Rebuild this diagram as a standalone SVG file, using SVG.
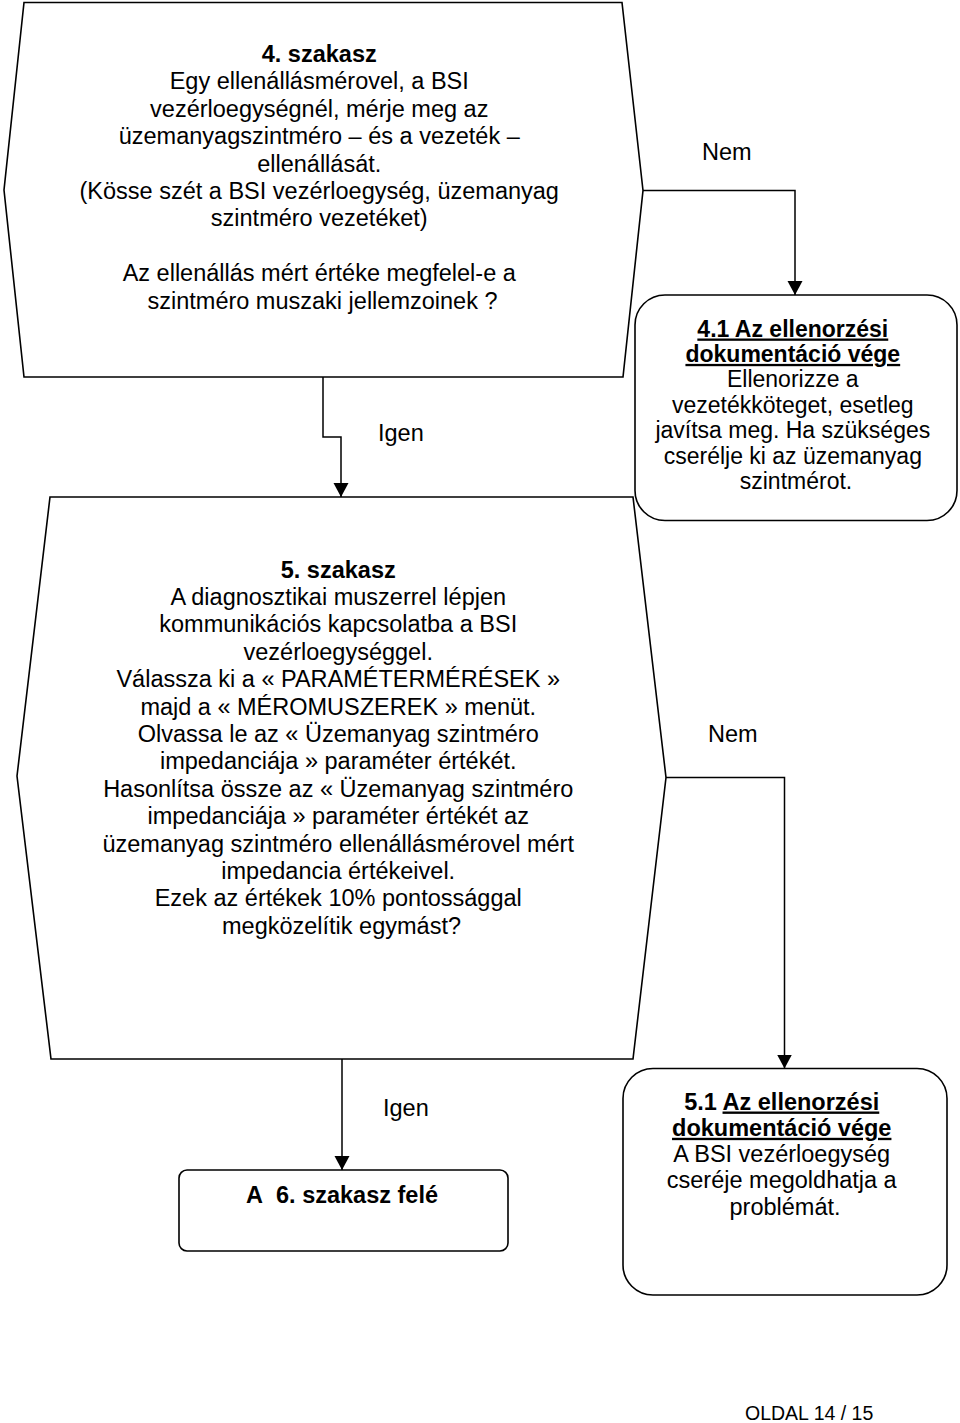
<svg xmlns="http://www.w3.org/2000/svg" width="960" height="1423" viewBox="0 0 960 1423">
<style>
.t{font-family:"Liberation Sans",Arial,sans-serif;fill:#000;font-size:23.5px}
.s{font-size:23px}
.c{text-anchor:middle}
.b{font-weight:bold}
.u{text-decoration:underline}
.shape{fill:#fff;stroke:#000;stroke-width:1.6;stroke-linejoin:miter}
.conn{fill:none;stroke:#000;stroke-width:1.5}
</style>
<defs>
<marker id="arr" markerUnits="userSpaceOnUse" markerWidth="15" markerHeight="16" refX="14" refY="7.5" orient="auto">
<path d="M0,0 L14,7.5 L0,15 z" fill="#000"/>
</marker>
</defs>
<rect width="960" height="1423" fill="#fff"/>

<g id="n4">
<polygon class="shape" points="24,2.5 622,2.5 643,190.5 623,377 24,377 4,190"/>
<text class="t c" x="322.5">
<tspan class="b" x="322.5" y="62">4. szakasz</tspan>
<tspan x="322.5" y="89.4">Egy ellenállásmérovel, a BSI</tspan>
<tspan x="322.5" y="116.8">vezérloegységnél, mérje meg az</tspan>
<tspan x="322.5" y="144.2">üzemanyagszintméro – és a vezeték –</tspan>
<tspan x="322.5" y="171.6">ellenállását.</tspan>
<tspan x="322.5" y="199">(Kösse szét a BSI vezérloegység, üzemanyag</tspan>
<tspan x="322.5" y="226.4">szintméro vezetéket)</tspan>
<tspan x="322.5" y="281.2">Az ellenállás mért értéke megfelel-e a</tspan>
<tspan x="322.5" y="308.6">szintméro muszaki jellemzoinek ?</tspan>
</text>
</g>

<g id="n41">
<rect class="shape" x="635" y="295" width="322" height="225.5" rx="30" ry="30"/>
<text class="t s c">
<tspan class="b u" x="796" y="336.5">4.1 Az ellenorzési</tspan>
<tspan class="b u" x="796" y="361.9">dokumentáció vége</tspan>
<tspan x="796" y="387.3">Ellenorizze a</tspan>
<tspan x="796" y="412.7">vezetékköteget, esetleg</tspan>
<tspan x="796" y="438.1">javítsa meg. Ha szükséges</tspan>
<tspan x="796" y="463.5">cserélje ki az üzemanyag</tspan>
<tspan x="796" y="488.9">szintmérot.</tspan>
</text>
</g>

<g id="n5">
<polygon class="shape" points="50,497 633,497 666,777.5 633,1059 51,1059 17,776"/>
<text class="t c">
<tspan class="b" x="341.5" y="577.6">5. szakasz</tspan>
<tspan x="341.5" y="605">A diagnosztikai muszerrel lépjen</tspan>
<tspan x="341.5" y="632.4">kommunikációs kapcsolatba a BSI</tspan>
<tspan x="341.5" y="659.8">vezérloegységgel.</tspan>
<tspan x="341.5" y="687.2">Válassza ki a « PARAMÉTERMÉRÉSEK »</tspan>
<tspan x="341.5" y="714.6">majd a « MÉROMUSZEREK » menüt.</tspan>
<tspan x="341.5" y="742">Olvassa le az « Üzemanyag szintméro</tspan>
<tspan x="341.5" y="769.4">impedanciája » paraméter értékét.</tspan>
<tspan x="341.5" y="796.8">Hasonlítsa össze az « Üzemanyag szintméro</tspan>
<tspan x="341.5" y="824.2">impedanciája » paraméter értékét az</tspan>
<tspan x="341.5" y="851.6">üzemanyag szintméro ellenállásmérovel mért</tspan>
<tspan x="341.5" y="879">impedancia értékeivel.</tspan>
<tspan x="341.5" y="906.4">Ezek az értékek 10% pontossággal</tspan>
<tspan x="341.5" y="933.8">megközelítik egymást?</tspan>
</text>
</g>

<g id="n6">
<rect class="shape" x="179" y="1170" width="329" height="81" rx="8" ry="8"/>
<text class="t b c" x="342" y="1203">A&#160; 6. szakasz felé</text>
</g>

<g id="n51">
<rect class="shape" x="623" y="1068.5" width="324" height="226.5" rx="30" ry="30"/>
<text class="t c">
<tspan class="b" x="785" y="1109.5">5.1 <tspan class="u">Az ellenorzési</tspan></tspan>
<tspan class="b u" x="785" y="1135.8">dokumentáció vége</tspan>
<tspan x="785" y="1162.1">A BSI vezérloegység</tspan>
<tspan x="785" y="1188.4">cseréje megoldhatja a</tspan>
<tspan x="785" y="1214.7">problémát.</tspan>
</text>
</g>

<g id="connectors">
<polyline class="conn" points="643,190.5 795,190.5 795,295" marker-end="url(#arr)"/>
<polyline class="conn" points="323,377 323,437 341,437 341,497" marker-end="url(#arr)"/>
<polyline class="conn" points="666,777.5 784.5,777.5 784.5,1068.5" marker-end="url(#arr)"/>
<polyline class="conn" points="342,1059 342,1170" marker-end="url(#arr)"/>
<text class="t" x="702" y="159.5">Nem</text>
<text class="t" x="378" y="440.5">Igen</text>
<text class="t" x="708" y="742">Nem</text>
<text class="t" x="383" y="1116">Igen</text>
</g>

<text class="t" x="745" y="1420" style="font-size:19.5px">OLDAL 14 / 15</text>
</svg>
